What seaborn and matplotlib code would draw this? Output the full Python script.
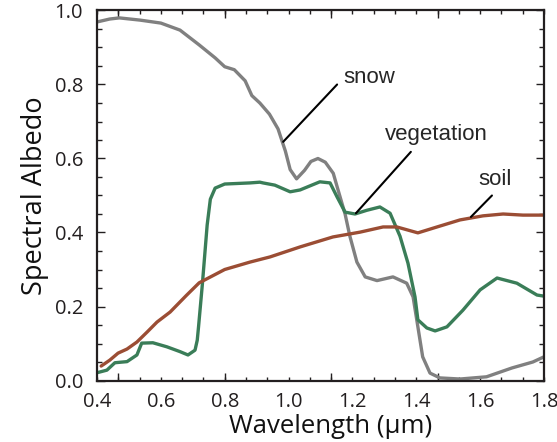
import numpy as np
import pandas as pd
import matplotlib
matplotlib.use("Agg")
import matplotlib.pyplot as plt
import seaborn as sns
from matplotlib.ticker import MultipleLocator

# ---- data ----
snow_x = [0.40, 0.44, 0.47, 0.535, 0.60, 0.66, 0.72, 0.77, 0.80, 0.83, 0.864, 0.885, 0.91, 0.94,
          0.967, 0.99, 1.005, 1.025, 1.05, 1.07, 1.092, 1.115, 1.14, 1.155, 1.177, 1.192, 1.214,
          1.24, 1.277, 1.327, 1.37, 1.39, 1.405, 1.42, 1.443, 1.474, 1.537, 1.62, 1.70, 1.765, 1.80]
snow_y = [0.969, 0.977, 0.98, 0.974, 0.966, 0.947, 0.907, 0.872, 0.848, 0.84, 0.81, 0.77, 0.75, 0.72,
          0.68, 0.62, 0.57, 0.545, 0.568, 0.592, 0.60, 0.59, 0.56, 0.515, 0.45, 0.39, 0.32,
          0.28, 0.27, 0.28, 0.263, 0.226, 0.145, 0.064, 0.02, 0.007, 0.004, 0.01, 0.034, 0.05, 0.064]

veg_x = [0.40, 0.431, 0.456, 0.494, 0.525, 0.54, 0.575, 0.619, 0.66, 0.685, 0.707, 0.714, 0.718,
         0.73, 0.745, 0.755, 0.77, 0.80, 0.879, 0.91, 0.92, 0.957, 1.005, 1.036, 1.098, 1.13,
         1.152, 1.177, 1.208, 1.245, 1.286, 1.318, 1.349, 1.374, 1.396, 1.405, 1.433, 1.459,
         1.496, 1.546, 1.60, 1.653, 1.715, 1.778, 1.80]
veg_y = [0.021, 0.028, 0.048, 0.051, 0.069, 0.101, 0.102, 0.091, 0.078, 0.069, 0.082, 0.109, 0.145,
         0.26, 0.42, 0.49, 0.52, 0.531, 0.534, 0.536, 0.534, 0.528, 0.51, 0.515, 0.537, 0.534,
         0.496, 0.455, 0.45, 0.46, 0.469, 0.452, 0.39, 0.317, 0.226, 0.164, 0.142, 0.134,
         0.145, 0.19, 0.245, 0.277, 0.263, 0.231, 0.228]

soil_x = [0.413, 0.44, 0.466, 0.494, 0.525, 0.557, 0.588, 0.629, 0.68, 0.72, 0.80, 0.879, 0.942,
          1.036, 1.139, 1.224, 1.296, 1.339, 1.405, 1.465, 1.537, 1.609, 1.672, 1.734, 1.80]
soil_y = [0.039, 0.055, 0.074, 0.085, 0.104, 0.131, 0.158, 0.185, 0.23, 0.264, 0.30, 0.32, 0.334,
          0.361, 0.388, 0.401, 0.415, 0.415, 0.399, 0.415, 0.434, 0.445, 0.45, 0.447, 0.447]

series_names = ["snow", "vegetation", "soil"]
series_colors = ["#808080", "#3a7d58", "#9b4d34"]

x_tick_values = [0.4, 0.6, 0.8, 1.0, 1.2, 1.4, 1.6, 1.8]
x_tick_labels = ["0.4", "0.6", "0.8", "1.0", "1.2", "1.4", "1.6", "1.8"]
x_long_ticks = [0.4667, 0.8, 1.1333, 1.4667]
y_tick_values = [0.0, 0.2, 0.4, 0.6, 0.8, 1.0]
y_tick_labels = ["0.0", "0.2", "0.4", "0.6", "0.8", "1.0"]

x_label = "Wavelength (\u03bcm)"
y_label = "Spectral Albedo"

# ---- figure ----
sns.set_theme(style="ticks")
plt.rcParams["font.family"] = ["Open Sans", "DejaVu Sans"]

W, H = 557, 442
fig = plt.figure(figsize=(W / 100, H / 100), dpi=100)
ax = fig.add_axes([97 / W, (H - 380.5) / H, (544 - 97) / W, (380.5 - 10.5) / H])

frames = []
for name, xs, ys in zip(series_names, [snow_x, veg_x, soil_x], [snow_y, veg_y, soil_y]):
    frames.append(pd.DataFrame({"wavelength": xs, "albedo": ys, "surface": name}))
df = pd.concat(frames, ignore_index=True)

sns.lineplot(data=df, x="wavelength", y="albedo", hue="surface",
             palette=dict(zip(series_names, series_colors)), estimator=None,
             legend=False, linewidth=2.4, ax=ax, solid_capstyle="round",
             solid_joinstyle="round", sort=False)

ax.set_xlim(0.4, 1.8)
ax.set_ylim(0.0, 1.0)

spine_col = "#231f20"
for s in ax.spines.values():
    s.set_visible(True)
    s.set_linewidth(1.6)
    s.set_color(spine_col)

ax.set_xticks(x_tick_values)
ax.set_xticklabels(x_tick_labels)
ax.xaxis.set_minor_locator(MultipleLocator(1 / 15))
ax.set_yticks(y_tick_values)
ax.set_yticklabels(y_tick_labels)
ax.yaxis.set_minor_locator(MultipleLocator(0.05))

ax.tick_params(axis="x", which="both", direction="in", top=True, bottom=True,
               length=3.0, width=1.0, color=spine_col, labelsize=14.5, pad=8,
               labelcolor="#231f20")
ax.tick_params(axis="y", which="major", direction="in", left=True, right=True,
               length=6.0, width=1.0, color=spine_col, labelsize=14.5, pad=10,
               labelcolor="#231f20")
ax.tick_params(axis="y", which="minor", direction="in", left=True, right=True,
               length=3.5, width=1.0, color=spine_col)

for loc in ["bottom", "top"]:
    sec = ax.secondary_xaxis(loc)
    sec.set_xticks(x_long_ticks)
    sec.tick_params(direction="in", length=6.0, width=1.0, color=spine_col,
                    labelbottom=False, labeltop=False)
    sec.spines[loc].set_visible(False)

ax.set_xlabel(x_label, fontsize=18.5, color="#111111")
ax.set_ylabel(y_label, fontsize=19.5, color="#111111")
ax.xaxis.set_label_coords(0.523, -0.09)
ax.yaxis.set_label_coords(-0.108, 0.5)

# annotations
ann_font = ["Liberation Sans", "DejaVu Sans"]
ax.annotate("", xy=(0.983, 0.645), xytext=(1.152, 0.80),
            arrowprops=dict(arrowstyle="-", color="black", lw=1.5, shrinkA=0, shrinkB=0))
ax.text(1.17, 0.818, series_names[0], fontsize=16, family=ann_font, ha="left", va="center")
ax.annotate("", xy=(1.211, 0.452), xytext=(1.383, 0.618),
            arrowprops=dict(arrowstyle="-", color="black", lw=1.5, shrinkA=0, shrinkB=0))
ax.text(1.462, 0.664, series_names[1], fontsize=16, family=ann_font, ha="center", va="center")
ax.annotate("", xy=(1.571, 0.442), xytext=(1.637, 0.50),
            arrowprops=dict(arrowstyle="-", color="black", lw=1.5, shrinkA=0, shrinkB=0))
ax.text(1.647, 0.542, series_names[2], fontsize=16, family=ann_font, ha="center", va="center")

fig.savefig("out.png", dpi=100)
